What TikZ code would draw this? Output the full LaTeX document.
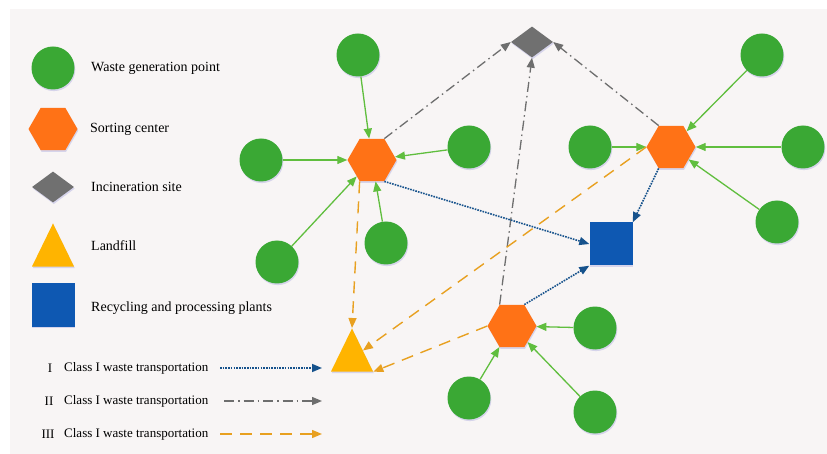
\documentclass[tikz,border=0pt]{standalone}
\usepackage{fontspec}
\setmainfont{Liberation Serif}
\usetikzlibrary{shapes.geometric,arrows.meta,shadows}

\definecolor{bgpaper}{RGB}{248,245,245}
\definecolor{ptgreen}{RGB}{58,168,52}
\definecolor{linegreen}{RGB}{96,190,62}
\definecolor{hexorange}{RGB}{255,114,22}
\definecolor{dmgrey}{RGB}{112,112,112}
\definecolor{triyellow}{RGB}{255,180,0}
\definecolor{sqblue}{RGB}{14,88,178}
\definecolor{lineblue}{RGB}{22,82,140}
\definecolor{linegrey}{RGB}{110,110,110}
\definecolor{lineorange}{RGB}{232,160,32}

\tikzset{
  shade/.style={drop shadow={opacity=0.18,fill=blue!50!gray,shadow xshift=0.8pt,shadow yshift=-1.6pt}},
  wastept/.style={circle,fill=ptgreen,minimum size=43pt,inner sep=0pt,shade},
  sortctr/.style={regular polygon,regular polygon sides=6,fill=hexorange,minimum size=49pt,inner sep=0pt,shade},
  burnsite/.style={diamond,fill=dmgrey,minimum width=42pt,minimum height=31pt,inner sep=0pt,shade},
  landfill/.style={isosceles triangle,isosceles triangle apex angle=52,shape border rotate=90,fill=triyellow,minimum size=42pt,inner sep=0pt,shade},
  plant/.style={rectangle,fill=sqblue,minimum size=43pt,inner sep=0pt,shade},
  tip/.style={-{Triangle[length=10pt,width=8pt]}},
  feed/.style={draw=linegreen,line width=1.3pt,tip},
  classone/.style={draw=lineblue,line width=1.6pt,dash pattern=on 1.6pt off 1.1pt,tip},
  classtwo/.style={draw=linegrey,line width=1.3pt,dash pattern=on 10pt off 4pt on 1.5pt off 4pt,tip},
  classthree/.style={draw=lineorange,line width=1.4pt,dash pattern=on 12pt off 8pt,tip},
  lbl/.style={anchor=west,inner sep=0pt,font=\fontsize{14}{16}\selectfont},
  lblsm/.style={anchor=west,inner sep=0pt,font=\fontsize{13}{15}\selectfont}
}

\begin{document}
\begin{tikzpicture}[x=1pt,y=-1pt]
\useasboundingbox (0,0) rectangle (827,454);
\fill[bgpaper] (10,9) rectangle (827,454);

% legend
\node[wastept] (kpt) at (53,68) {};
\node[sortctr] (kctr) at (53,129) {};
\node[burnsite] (kburn) at (53,187) {};
\node[landfill,anchor=apex] (kfill) at (53,223) {};
\node[plant] (kplant) at (53,305) {};
\node[lbl] (tpt) at (91,68) {Waste generation point};
\node[lbl] (tctr) at (90,129) {Sorting center};
\node[lbl] (tburn) at (91,187) {Incineration site};
\node[lbl] (tfill) at (91,246) {Landfill};
\node[lbl] (tplant) at (91,308) {Recycling and processing plants};

\node[lblsm,anchor=center] (rone) at (50,368) {I};
\node[lblsm,anchor=center] (rtwo) at (49,401) {II};
\node[lblsm,anchor=center] (rthree) at (48,434) {III};
\node[lblsm] (cone) at (64,368) {Class I waste transportation};
\node[lblsm] (ctwo) at (64,401) {Class I waste transportation};
\node[lblsm] (cthree) at (64,434) {Class I waste transportation};
\coordinate (a1) at (220,368); \coordinate (b1) at (322,368);
\coordinate (a2) at (224,401); \coordinate (b2) at (322,401);
\coordinate (a3) at (220,434); \coordinate (b3) at (322,434);
\draw[classone] (a1) -- (b1);
\draw[classtwo] (a2) -- (b2);
\draw[classthree] (a3) -- (b3);

% network
\node[burnsite] (burn) at (532,42) {};
\node[plant] (plant) at (611,244) {};
\node[landfill,anchor=apex] (fill) at (352,328) {};
\node[sortctr] (s1) at (372,160) {};
\node[sortctr] (s2) at (671,147) {};
\node[sortctr] (s3) at (512,326) {};

\foreach \n/\x/\y in {1/358/55,2/261/160,3/469/147,4/386/243,5/277/262,
  6/762/55,7/590/147,8/803/147,9/777/222,10/595/328,11/469/398,12/595/412}
  \node[wastept] (g\n) at (\x,\y) {};

\foreach \n/\s in {1/s1,2/s1,3/s1,4/s1,5/s1,6/s2,7/s2,8/s2,9/s2,10/s3,11/s3,12/s3}
  \draw[feed] (g\n) -- (\s);

\draw[classtwo] (s1.60) -- (burn.west);
\draw[classtwo] (s2.120) -- (burn.east);
\draw[classtwo] (s3.120) -- (burn.south);

\draw[classone] (s1.-60) -- (plant.west);
\draw[classone] (s2.240) -- (plant.north east);
\draw[classone] (s3.60) -- (plant.south west);

\draw[classthree] (s1.240) -- (fill.apex);
\draw[classthree] (s2.west) -- (fill);
\draw[classthree] (s3.west) -- (fill.right corner);
\end{tikzpicture}
\end{document}
